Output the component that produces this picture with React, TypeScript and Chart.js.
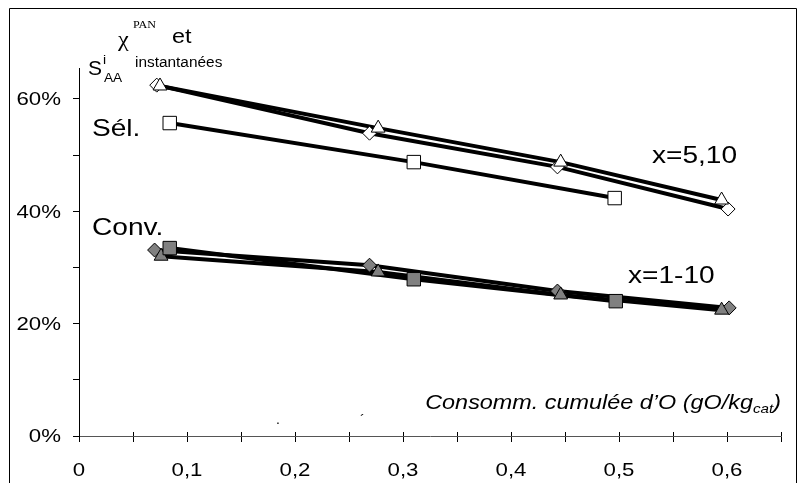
import React, { useEffect, useRef } from 'react';
import { Chart, registerables } from 'chart.js';

Chart.register(...registerables);

// Sél. group (white markers)
const selTriX = [0.075, 0.277, 0.446, 0.595];
const selTriY = [0.623, 0.548, 0.4875, 0.42];
const selDiaX = [0.072, 0.269, 0.443, 0.601];
const selDiaY = [0.6245, 0.539, 0.479, 0.404];
const selSqX = [0.084, 0.31, 0.496];
const selSqY = [0.557, 0.4875, 0.4235];

// Conv. group (grey markers)
const convTriX = [0.076, 0.277, 0.446, 0.595];
const convTriY = [0.32, 0.292, 0.251, 0.224];
const convDiaX = [0.07, 0.269, 0.443, 0.602];
const convDiaY = [0.331, 0.304, 0.258, 0.228];
const convSqX = [0.084, 0.31, 0.497];
const convSqY = [0.3345, 0.279, 0.24];

// axes
const xTickValues = [0, 0.05, 0.1, 0.15, 0.2, 0.25, 0.3, 0.35, 0.4, 0.45, 0.5, 0.55, 0.6, 0.65];
const xLabelValues = [0, 0.1, 0.2, 0.3, 0.4, 0.5, 0.6];
const xLabels = ['0', '0,1', '0,2', '0,3', '0,4', '0,5', '0,6'];
const yTickValues = [0, 0.1, 0.2, 0.3, 0.4, 0.5, 0.6];
const yLabelValues = [0, 0.2, 0.4, 0.6];
const yLabels = ['0%', '20%', '40%', '60%'];

const SANS = '"Liberation Sans", Arial, Helvetica, sans-serif';
const SERIF = '"Liberation Serif", "Times New Roman", serif';
const SX = 1.17; // horizontal stretch of the source picture's text

function pts(xs: number[], ys: number[]) {
  return xs.map((x, i) => ({ x, y: ys[i] }));
}

function txt(
  ctx: CanvasRenderingContext2D,
  s: string,
  x: number,
  y: number,
  font: string,
  align: CanvasTextAlign = 'left',
  base: CanvasTextBaseline = 'alphabetic',
  sx = SX
) {
  ctx.save();
  ctx.font = font;
  ctx.textAlign = align;
  ctx.textBaseline = base;
  ctx.translate(x, y);
  ctx.scale(sx, 1);
  ctx.fillText(s, 0, 0);
  const w = ctx.measureText(s).width * sx;
  ctx.restore();
  return w;
}

const decorPlugin = {
  id: 'decor',
  afterDraw(chart: any) {
    const ctx = chart.ctx as CanvasRenderingContext2D;
    const xs = chart.scales.x;
    const ys = chart.scales.y;
    const area = chart.chartArea;
    ctx.save();
    // outer frame
    ctx.strokeStyle = '#000';
    ctx.lineWidth = 1;
    ctx.beginPath();
    ctx.moveTo(9.5, 490);
    ctx.lineTo(9.5, 8.5);
    ctx.lineTo(796.5, 8.5);
    ctx.lineTo(796.5, 490);
    ctx.stroke();
    // inner part of x ticks (crossing ticks)
    ctx.beginPath();
    xTickValues.forEach((v) => {
      const px = Math.round(xs.getPixelForValue(v)) + 0.5;
      ctx.moveTo(px, area.bottom - 4);
      ctx.lineTo(px, area.bottom);
    });
    ctx.stroke();

    ctx.fillStyle = '#000';
    // tick labels
    xLabelValues.forEach((v, i) => {
      txt(ctx, xLabels[i], xs.getPixelForValue(v), 476, `19px ${SANS}`, 'center');
    });
    yLabelValues.forEach((v, i) => {
      txt(ctx, yLabels[i], 61, ys.getPixelForValue(v) + 1, `19px ${SANS}`, 'right', 'middle');
    });

    // y title
    txt(ctx, 'χ', 118, 46, `22px ${SERIF}`, 'left', 'alphabetic', 1.1);
    txt(ctx, 'PAN', 133, 28, `11px ${SERIF}`, 'left', 'alphabetic', 1.1);
    txt(ctx, 'et', 172, 43, `20px ${SANS}`);
    txt(ctx, 'S', 88, 75, `20px ${SANS}`, 'left', 'alphabetic', 1.05);
    txt(ctx, 'i', 103, 64, `12px ${SANS}`);
    txt(ctx, 'AA', 104, 82, `13px ${SANS}`, 'left', 'alphabetic', 1.05);
    txt(ctx, 'instantanées', 135, 67, `14px ${SANS}`, 'left', 'alphabetic', 1.1);

    // group labels
    txt(ctx, 'Sél.', 92, 136, `24px ${SANS}`);
    txt(ctx, 'Conv.', 92, 235, `24px ${SANS}`);
    txt(ctx, 'x=5,10', 652, 163, `24px ${SANS}`);
    txt(ctx, 'x=1-10', 628, 283, `24px ${SANS}`);

    // x title, right-aligned at the end of the axis
    const t1 = 'Consomm. cumulée d’O (gO/kg';
    ctx.font = `italic 20px ${SANS}`;
    const w1 = ctx.measureText(t1).width * SX;
    const wp = ctx.measureText(')').width * SX;
    ctx.font = `italic 13px ${SANS}`;
    const wc = ctx.measureText('cat').width * SX;
    let x = 781 - (w1 + wc + wp);
    txt(ctx, t1, x, 409, `italic 20px ${SANS}`);
    x += w1;
    txt(ctx, 'cat', x, 413, `italic 13px ${SANS}`);
    x += wc;
    txt(ctx, ')', x, 409, `italic 20px ${SANS}`);

    // small stray marks
    txt(ctx, '.', 276, 424, `12px ${SANS}`);
    txt(ctx, '´', 360, 424, `12px ${SANS}`);
    ctx.restore();
  },
};

export default function App() {
  const ref = useRef<HTMLCanvasElement | null>(null);
  useEffect(() => {
    document.body.style.margin = '0';
    const canvas = ref.current;
    if (!canvas) return;
    const line = (xs: number[], ys: number[]) => ({
      data: pts(xs, ys),
      showLine: true,
      borderColor: '#000',
      borderWidth: 4,
      pointRadius: 0,
      tension: 0,
      order: 1,
    });
    const marker = (xs: number[], ys: number[], style: string, r: number, fill: string) => ({
      data: pts(xs, ys),
      showLine: false,
      pointStyle: style,
      pointRadius: r,
      pointBackgroundColor: fill,
      pointBorderColor: '#000',
      pointBorderWidth: 1,
      order: 0,
    });
    const chart = new Chart(canvas, {
      type: 'scatter',
      data: {
        datasets: [
          marker(selSqX, selSqY, 'rect', 9.5, '#fff'),
          marker(selTriX, selTriY, 'triangle', 8, '#fff'),
          marker(selDiaX, selDiaY, 'rectRot', 7, '#fff'),
          marker(convSqX, convSqY, 'rect', 9.5, '#808080'),
          marker(convTriX, convTriY, 'triangle', 8, '#808080'),
          marker(convDiaX, convDiaY, 'rectRot', 7, '#808080'),
          line(selTriX, selTriY),
          line(selDiaX, selDiaY),
          line(selSqX, selSqY),
          line(convTriX, convTriY),
          line(convDiaX, convDiaY),
          line(convSqX, convSqY),
        ] as any,
      },
      options: {
        responsive: false,
        animation: false,
        layout: { padding: { left: 0, right: 19, top: 68, bottom: 0 } },
        plugins: { legend: { display: false }, tooltip: { enabled: false } },
        scales: {
          x: {
            type: 'linear',
            min: 0,
            max: 0.65,
            afterBuildTicks: (s: any) => {
              s.ticks = xTickValues.map((v) => ({ value: v }));
            },
            afterFit: (s: any) => {
              s.height = 47;
            },
            ticks: { display: false },
            grid: { drawOnChartArea: false, drawTicks: true, tickLength: 6, color: '#000' },
            border: { display: true, color: '#555', width: 1 },
          },
          y: {
            type: 'linear',
            min: 0,
            max: 0.655,
            afterBuildTicks: (s: any) => {
              s.ticks = yTickValues.map((v) => ({ value: v }));
            },
            afterFit: (s: any) => {
              s.width = 79;
            },
            ticks: { display: false },
            grid: { drawOnChartArea: false, drawTicks: true, tickLength: 6, color: '#000' },
            border: { display: true, color: '#000', width: 1 },
          },
        },
      },
      plugins: [decorPlugin],
    } as any);
    return () => chart.destroy();
  }, []);
  return (
    <div style={{ position: 'absolute', left: 0, top: 0, width: 800, height: 483, background: '#fff' }}>
      <canvas ref={ref} width={800} height={483} />
    </div>
  );
}
